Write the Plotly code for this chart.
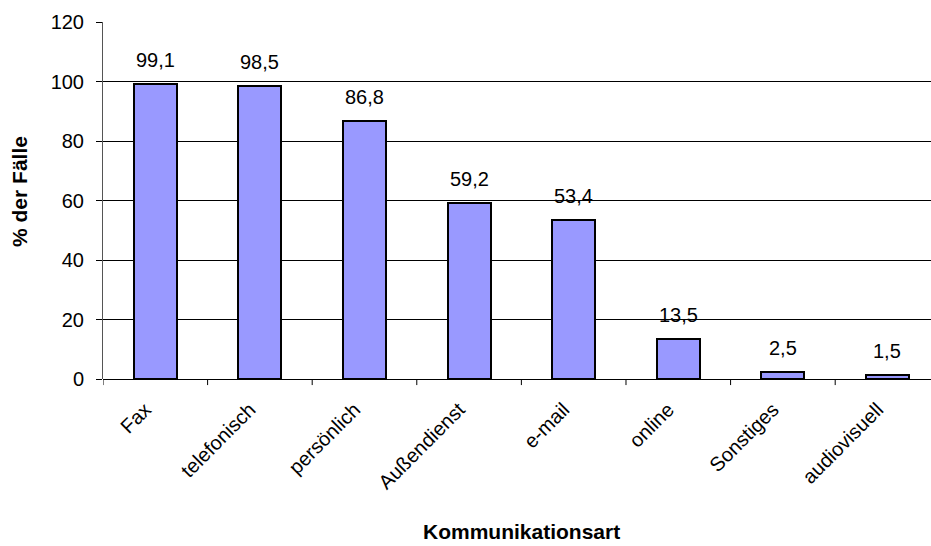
import plotly.graph_objects as go

# Kommunikationsarten und Anteil der Fälle in %
kategorien = ["Fax", "telefonisch", "persönlich", "Außendienst",
              "e-mail", "online", "Sonstiges", "audiovisuell"]
werte = [99.1, 98.5, 86.8, 59.2, 53.4, 13.5, 2.5, 1.5]
y_ticks = [0, 20, 40, 60, 80, 100, 120]

FONT = "Liberation Sans, Arial, sans-serif"

fig = go.Figure()
fig.add_trace(go.Bar(
    x=list(range(len(kategorien))),
    y=werte,
    width=0.41,
    marker=dict(color="#9999FF", line=dict(color="#000000", width=2)),
    hoverinfo="skip",
))

# Wertebeschriftung über den Balken
for i, v in enumerate(werte):
    fig.add_annotation(
        x=i, y=v, text=f"{v:.1f}".replace(".", ","),
        showarrow=False, yanchor="bottom", yshift=11,
        font=dict(family=FONT, size=20, color="#000000"),
    )

# Achsentitel
fig.add_annotation(
    xref="paper", yref="paper", x=0.505, y=-0.428,
    text="<b>Kommunikationsart</b>", showarrow=False,
    xanchor="center", yanchor="middle",
    font=dict(family=FONT, size=21, color="#000000"),
)
fig.add_annotation(
    xref="paper", yref="paper", x=-0.1002, y=0.524,
    text="<b>% der Fälle</b>", showarrow=False, textangle=-90,
    xanchor="center", yanchor="middle",
    font=dict(family=FONT, size=21, color="#000000"),
)

fig.update_layout(
    width=931, height=546,
    margin=dict(l=103, r=0, t=22, b=167),
    paper_bgcolor="white", plot_bgcolor="white",
    showlegend=False,
    separators=",.",
    font=dict(family=FONT, size=20, color="#000000"),
    bargap=0,
)

fig.update_xaxes(
    range=[-0.5, 7.416],
    tickmode="array",
    tickvals=list(range(len(kategorien))),
    ticktext=kategorien,
    tickangle=-45,
    tickfont=dict(family=FONT, size=20),
    ticklabelstandoff=14,
    ticklabelshift=-10,
    ticks="",
    showgrid=False,
    showline=False,
    zeroline=False,
)

# Trennstriche zwischen den Kategorien
for k in range(len(kategorien) + 1):
    fig.add_shape(type="line", xref="x", yref="paper",
                  x0=k - 0.5, x1=k - 0.5, y0=0, y1=-0.017,
                  line=dict(color="#000000", width=1))

fig.update_yaxes(
    range=[0, 120],
    tickmode="array",
    tickvals=y_ticks,
    tickfont=dict(family=FONT, size=20),
    ticklabelstandoff=8,
    ticks="outside", ticklen=6, tickcolor="#000000",
    showgrid=True, gridcolor="#000000", gridwidth=1,
    showline=True, linecolor="#555555", linewidth=1,
    zeroline=True, zerolinecolor="#000000", zerolinewidth=1,
)

fig.write_html("out.html")
